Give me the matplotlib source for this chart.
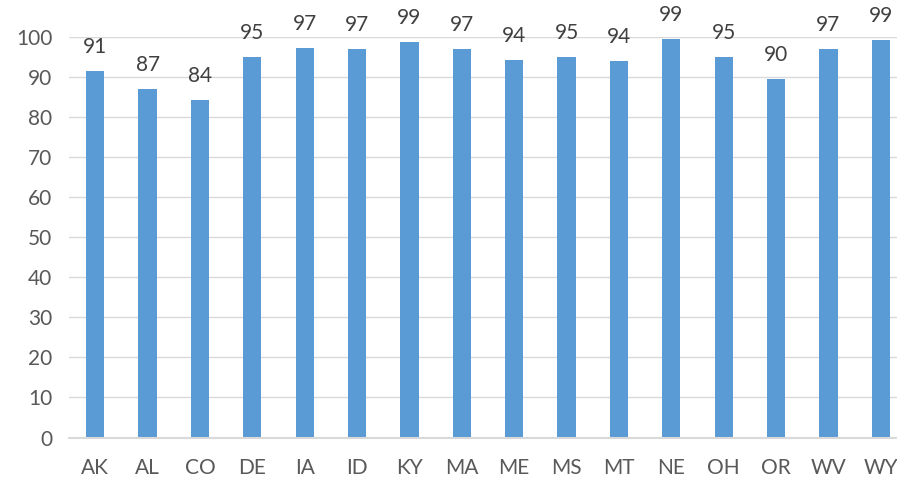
import matplotlib
matplotlib.use("Agg")
import matplotlib.pyplot as plt
import matplotlib.ticker as ticker

states = ["AK", "AL", "CO", "DE", "IA", "ID", "KY", "MA",
          "ME", "MS", "MT", "NE", "OH", "OR", "WV", "WY"]
values = [91.6, 86.9, 84.3, 95.1, 97.2, 97.1, 98.8, 97.1,
          94.3, 95.1, 94.1, 99.6, 95.1, 89.5, 97.1, 99.25]
value_labels = ["91", "87", "84", "95", "97", "97", "99", "97",
                "94", "95", "94", "99", "95", "90", "97", "99"]

plt.rcParams['font.family'] = ['Lato', 'DejaVu Sans']

fig = plt.figure(figsize=(8.97, 4.79), dpi=100)
# plot area runs a bit past the right edge, like the cropped original
ax = fig.add_axes([69 / 897, 41.5 / 479, 838 / 897, 400.5 / 479])

x = range(len(states))
bars = ax.bar(x, values, width=0.35, color="#5B9BD5", zorder=3)

for xi, v, lab in zip(x, values, value_labels):
    ax.annotate(lab, (xi, v), xytext=(0, 18), textcoords="offset pixels",
                ha="center", va="baseline", fontsize=15, color="#404040")

ax.set_xlim(-0.5, len(states) - 0.5)
ax.set_ylim(0, 100)
ax.yaxis.set_major_locator(ticker.MultipleLocator(10))
ax.set_xticks(list(x))
ax.set_xticklabels(states)

ax.grid(axis="y", color="#D9D9D9", linewidth=1, zorder=0)
for side in ["top", "right", "left"]:
    ax.spines[side].set_visible(False)
ax.spines["bottom"].set_color("#D9D9D9")
ax.spines["bottom"].set_linewidth(1.5)
ax.spines["bottom"].set_zorder(4)

ax.tick_params(axis="both", length=0, labelsize=15, labelcolor="#595959")
ax.tick_params(axis="y", pad=12)
ax.tick_params(axis="x", pad=15)

fig.savefig("out.png", dpi=100)
